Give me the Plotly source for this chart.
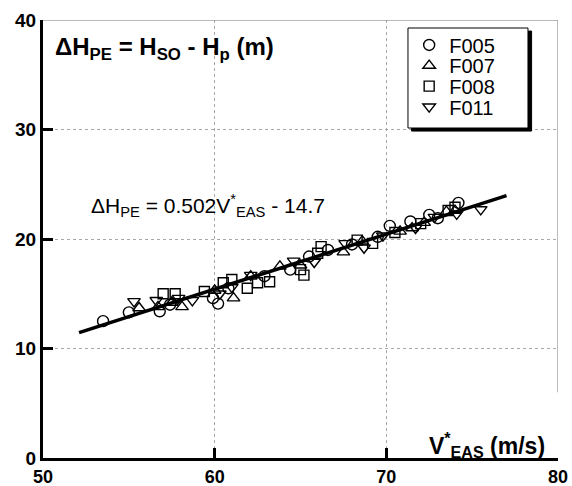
import plotly.graph_objects as go

# ---- data ----
f005_x = [53.5, 55.0, 56.8, 57.4, 59.9, 60.2, 60.8, 62.9, 64.4, 65.5, 66.6, 68.0, 69.5, 70.2, 71.4, 72.5, 73.0, 74.2]
f005_y = [12.5, 13.3, 13.4, 14.0, 14.6, 14.1, 15.5, 16.6, 17.2, 18.4, 19.0, 19.5, 20.2, 21.2, 21.6, 22.2, 21.9, 23.3]

f007_x = [55.6, 56.7, 58.1, 57.5, 61.1, 60.0, 62.1, 63.8, 65.0, 67.5, 68.6, 70.8, 71.5, 72.2, 73.5, 74.0]
f007_y = [13.7, 13.8, 13.8, 14.2, 14.6, 15.3, 16.6, 17.5, 17.6, 18.8, 19.8, 20.7, 21.0, 21.5, 22.5, 22.6]

f008_x = [57.0, 57.7, 59.4, 60.5, 61.0, 61.9, 62.5, 63.2, 65.0, 65.2, 66.0, 66.2, 68.3, 69.2, 70.5, 72.0, 73.6, 74.0]
f008_y = [15.0, 15.0, 15.2, 16.0, 16.3, 15.5, 16.0, 16.1, 17.2, 16.7, 18.7, 19.3, 19.9, 19.6, 20.6, 21.4, 22.6, 22.9]

f011_x = [55.3, 56.6, 57.9, 58.7, 60.3, 61.0, 62.1, 64.6, 65.8, 67.6, 68.7, 69.8, 71.7, 72.8, 74.1, 75.5]
f011_y = [14.3, 14.4, 14.6, 14.4, 15.0, 15.6, 16.7, 18.0, 17.9, 19.6, 19.2, 20.3, 21.0, 22.0, 22.3, 22.7]

series_names = ["F005", "F007", "F008", "F011"]

fit_slope = 0.502
fit_intercept = -14.7
fit_x = [52.1, 77.0]
fit_y = [fit_slope * v + fit_intercept for v in fit_x]

x_ticks = [50, 60, 70, 80]
y_ticks = [0, 10, 20, 30, 40]

FONT = "Liberation Sans"

fig = go.Figure()

fig.add_trace(go.Scatter(x=fit_x, y=fit_y, mode="lines", showlegend=False,
                         line=dict(color="black", width=3.5)))

symbols = ["circle-open", "triangle-up-open", "square-open", "triangle-down-open"]
xs_all = [f005_x, f007_x, f008_x, f011_x]
ys_all = [f005_y, f007_y, f008_y, f011_y]
sizes = [11, 11, 10, 11]
legend_ids = ["legend", "legend2", "legend3", "legend4"]
for name, xs, ys, sym, sz, lg in zip(series_names, xs_all, ys_all, symbols, sizes, legend_ids):
    fig.add_trace(go.Scatter(x=xs, y=ys, mode="markers", name=name, legend=lg,
                             marker=dict(symbol=sym, size=sz, color="black",
                                         line=dict(color="black", width=1.4))))

axis_common = dict(
    ticks="inside", ticklen=10, tickwidth=3, tickcolor="black",
    showline=True, linewidth=3, linecolor="black", mirror=False,
    showgrid=True, gridcolor="#a8a8a8", griddash="dot", gridwidth=1,
    zeroline=False, automargin=False,
)

fig.update_xaxes(range=[50, 80], tickvals=x_ticks,
                 tickfont=dict(family=FONT, size=18, color="black", weight="bold"), **axis_common)
fig.update_yaxes(range=[0, 40], tickvals=y_ticks,
                 tickfont=dict(family=FONT, size=19, color="black", weight="bold"), **axis_common)

# plot frame top/right thin gray lines
fig.add_shape(type="line", xref="x", yref="y", x0=50, x1=80, y0=40, y1=40,
              line=dict(color="#777777", width=1))
fig.add_shape(type="line", xref="x", yref="y", x0=80, x1=80, y0=6, y1=40,
              line=dict(color="#777777", width=1))

# legend box with shadow (paper coords)
lx0, lx1, ly0, ly1 = 0.7087, 0.9417, 0.7534, 0.9817
fig.add_shape(type="rect", xref="paper", yref="paper",
              x0=lx0 + 0.007, x1=lx1 + 0.007, y0=ly0 - 0.007, y1=ly1 - 0.007,
              fillcolor="black", line=dict(color="black", width=1), layer="above")
fig.add_shape(type="rect", xref="paper", yref="paper",
              x0=lx0, x1=lx1, y0=ly0, y1=ly1,
              fillcolor="white", line=dict(color="black", width=1), layer="above")

fig.add_annotation(xref="paper", yref="paper", x=0.019, y=0.935, xanchor="left", yanchor="middle",
                   text="ΔH<sub>PE</sub> = H<sub>SO</sub> - H<sub>p</sub> (m)", showarrow=False,
                   font=dict(family=FONT, size=24, color="black", weight="bold"))

fig.add_annotation(xref="paper", yref="paper", x=0.089, y=0.577, xanchor="left", yanchor="middle",
                   text="ΔH<sub>PE</sub> = 0.502V<sup>*</sup><sub>EAS</sub> - 14.7", showarrow=False,
                   font=dict(family=FONT, size=21, color="black"))

fig.add_annotation(xref="paper", yref="paper", x=0.979, y=0.03, xanchor="right", yanchor="middle",
                   text="V<sup>*</sup><sub>EAS</sub> (m/s)", showarrow=False,
                   font=dict(family=FONT, size=23, color="black", weight="bold"))

# one single-entry legend per row so the rows can sit as tightly as in the reference
legend_row_y = [0.943, 0.896, 0.849, 0.802]
legend_layout = {}
for lg, ry in zip(legend_ids, legend_row_y):
    legend_layout[lg] = dict(x=0.711, y=ry, xanchor="left", yanchor="middle",
                             bgcolor="rgba(0,0,0,0)", borderwidth=0,
                             font=dict(family=FONT, size=20, color="black"),
                             itemsizing="trace")

fig.update_layout(
    width=572, height=486,
    margin=dict(l=43, r=14, t=20, b=28),
    plot_bgcolor="white", paper_bgcolor="white",
    showlegend=True,
    **legend_layout,
)

fig.write_html("out.html")
